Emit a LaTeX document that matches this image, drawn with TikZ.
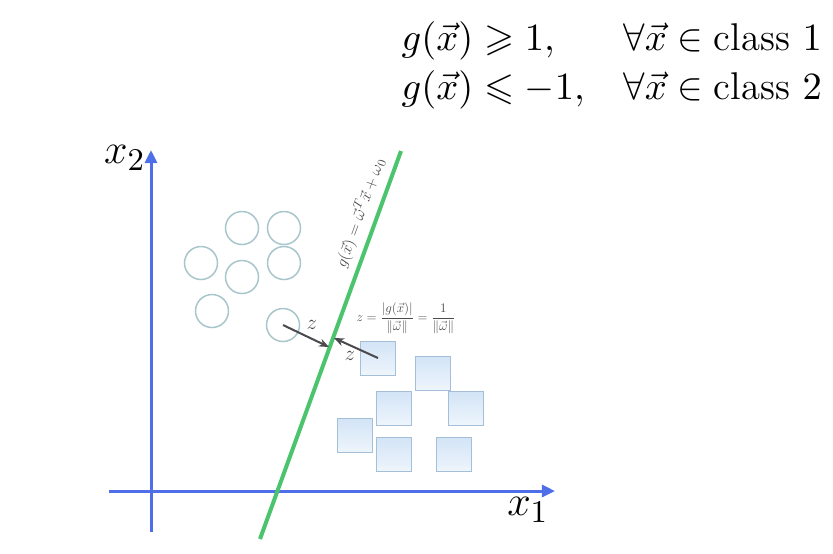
\documentclass[tikz,border=0pt]{standalone}
\usepackage{amsmath,amssymb}
\usepackage{xcolor}
\definecolor{AxisBlue}{HTML}{4F6FE8}
\definecolor{LineGreen}{HTML}{4CC46E}
\definecolor{RingGrey}{HTML}{A9C6CC}
\definecolor{BoxEdge}{HTML}{A6BFD9}
\definecolor{BoxTop}{HTML}{D2E4F6}
\definecolor{BoxBottom}{HTML}{EEF5FC}
\definecolor{Pointer}{HTML}{4A4A4F}
\colorlet{axisblue}{AxisBlue}
\colorlet{linegreen}{LineGreen}
\colorlet{ringgrey}{RingGrey}
\colorlet{boxedge}{BoxEdge}
\colorlet{pointer}{Pointer}
\usepackage{tikz}
\usetikzlibrary{arrows.meta,positioning}

\begin{document}
\begin{tikzpicture}[x=0.01cm,y=-0.01cm,every node/.style={font=\fontsize{13}{14.2}\selectfont},
  ring/.style={circle,draw=ringgrey,line width=0.15mm,minimum size=3.3mm,inner sep=0pt},
  box/.style={rectangle,draw=boxedge,line width=0.1mm,top color=BoxTop,bottom color=BoxBottom,minimum size=3.4mm,inner sep=0pt},
  ptr/.style={-{Stealth[length=1mm,width=0.8mm]},draw=pointer,line width=0.2mm}]
\useasboundingbox (0,0) rectangle (833,553);
% axes
\coordinate (xa) at (109,491); \coordinate (xb) at (555,491);
\coordinate (ya) at (151,532); \coordinate (yb) at (151,150);
\draw[-{Triangle[length=1.3mm,width=1.2mm]},axisblue,line width=0.3mm] (xa)--(xb);
\draw[-{Triangle[length=1.3mm,width=1.2mm]},axisblue,line width=0.3mm] (ya)--(yb);
\node (lx1) at (528,510) {$x_1$};
\node (lx2) at (125,158) {$x_2$};
% class 1
\node[ring] (c1) at (242,228) {};
\node[ring] (c2) at (284,228) {};
\node[ring] (c3) at (201,263) {};
\node[ring] (c4) at (242,277) {};
\node[ring] (c5) at (284,263) {};
\node[ring] (c6) at (212,311) {};
\node[ring] (c7) at (283,325) {};
% class 2
\node[box] (s1) at (378,358) {};
\node[box] (s2) at (433,373) {};
\node[box] (s3) at (394,408) {};
\node[box] (s4) at (466,408) {};
\node[box] (s5) at (355,435) {};
\node[box] (s6) at (394,454) {};
\node[box] (s7) at (454,454) {};
% separating line
\coordinate (gb) at (260,539); \coordinate (gt) at (401,151);
\draw[linegreen,line width=0.4mm] (gb)--(gt);
\node[rotate=70,scale=0.38,text=pointer] (gl) at (360,213) {$g(\vec{x})=\vec{\omega}^T\vec{x}+\omega_0$};
% margin
\coordinate (m1) at (329,347); \coordinate (m2) at (334,338);
\draw[ptr] (c7.center)--(m1);\draw[ptr] (s1.center)--(m2);
\node[scale=0.5,text=pointer] (z1) at (312,325) {$z$};
\node[scale=0.5,text=pointer] (z2) at (350,356) {$z$};
\node[scale=0.31,text=pointer] (zf) at (406,318) {$\displaystyle z=\frac{|g(\vec{x})|}{\|\vec{\omega}\|}=\frac{1}{\|\vec{\omega}\|}$};
% conditions
\node[anchor=west,inner sep=0pt,font=\fontsize{11}{14.2}\selectfont] (cond) at (401,65) {$\begin{array}{@{}l@{\hspace{11pt}}l@{}}
g(\vec{x})\geqslant 1, & \forall\vec{x}\in\text{class }1\\
g(\vec{x})\leqslant -1, & \forall\vec{x}\in\text{class }2
\end{array}$};
\end{tikzpicture}
\end{document}
